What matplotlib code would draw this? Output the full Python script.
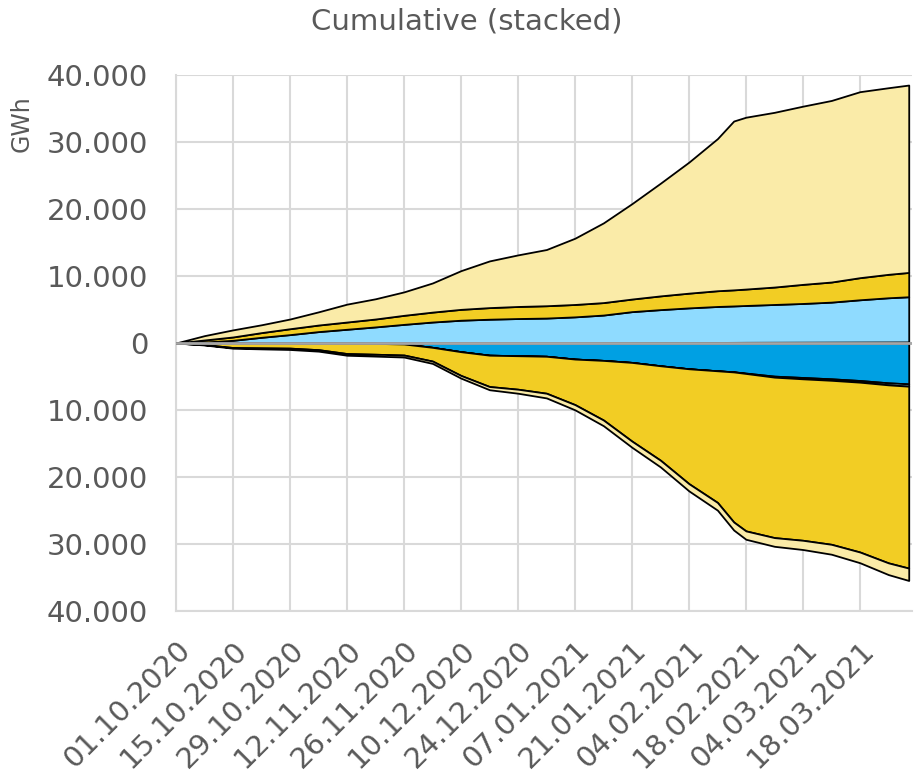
import numpy as np
import pandas as pd
import matplotlib
matplotlib.use('Agg')
import matplotlib.pyplot as plt
from matplotlib.ticker import FuncFormatter
from matplotlib.transforms import ScaledTranslation

# days since 01.10.2020
days = [0, 7, 14, 21, 28, 35, 42, 49, 56, 63, 70, 77, 84, 91, 98, 105,
        112, 119, 126, 133, 137, 140, 147, 154, 161, 168, 175, 180]

# positive side (cumulative GWh per layer)
pos_darkblue = [0, 0, 0, 0, 0, 0, 0, 0, 0, 0, 0, 0, 0, 0, 0, 20,
                30, 50, 60, 80, 90, 100, 110, 120, 130, 140, 150, 160]
pos_lightblue = [0, 150, 400, 850, 1250, 1700, 2050, 2400, 2780, 3130, 3400, 3550, 3650, 3720, 3900, 4150,
                 4650, 4930, 5180, 5370, 5440, 5500, 5640, 5780, 5970, 6310, 6600, 6740]
pos_yellow = [0, 300, 500, 700, 880, 980, 1080, 1180, 1350, 1480, 1620, 1730, 1800, 1840, 1850, 1860,
              1880, 2050, 2200, 2350, 2400, 2450, 2600, 2850, 3000, 3300, 3500, 3630]
pos_paleyellow = [0, 650, 1060, 1170, 1450, 1970, 2670, 3020, 3500, 4350, 5780, 6970, 7700, 8390, 9890, 11900,
                  14240, 16820, 19560, 22700, 25200, 25650, 26080, 26600, 27100, 27760, 27850, 27970]

# negative side
neg_darkblue = [0, 0, 10, 20, 30, 40, 50, 60, 150, 650, 1300, 1820, 1900, 1980, 2400, 2600,
                2900, 3400, 3850, 4150, 4300, 4500, 4950, 5150, 5350, 5600, 5950, 6100]
neg_lightblue = [0, 0, 0, 0, 0, 0, 0, 0, 0, 0, 0, 0, 0, 0, 0, 0,
                 0, 0, 0, 0, 20, 50, 150, 200, 220, 250, 300, 350]
neg_yellow = [0, 250, 670, 710, 740, 960, 1530, 1620, 1650, 2050, 3550, 4680, 5000, 5520, 6800, 8900,
              11750, 14100, 17150, 19650, 22400, 23500, 23950, 24100, 24480, 25350, 26570, 27150]
neg_paleyellow = [0, 50, 100, 150, 200, 220, 250, 280, 300, 350, 400, 480, 600, 700, 780, 850,
                  920, 1000, 1080, 1150, 1200, 1250, 1300, 1380, 1480, 1600, 1750, 1850]

colors = ['#00A0E3', '#8FDBFF', '#F2CD24', '#FAEBA8']

plt.rcParams['font.family'] = ['DejaVu Sans']
txt = '#595959'

start = pd.Timestamp('2020-10-01')
x = [start + pd.Timedelta(days=d) for d in days]

fig = plt.figure(figsize=(9.14, 7.78), dpi=100)
ax = fig.add_axes([0.1926, 0.2147, 0.8052, 0.6889])

ax.stackplot(x, pos_darkblue, pos_lightblue, pos_yellow, pos_paleyellow,
             colors=colors, edgecolor='black', linewidth=1.3, zorder=3)
ax.stackplot(x, -np.array(neg_darkblue), -np.array(neg_lightblue),
             -np.array(neg_yellow), -np.array(neg_paleyellow),
             colors=colors, edgecolor='black', linewidth=1.3, zorder=3)
ax.axhline(0, color='#A6A6A6', lw=2, zorder=4)

ax.set_ylim(-40000, 40000)
ax.set_yticks(np.arange(-40000, 40001, 10000))
ax.yaxis.set_major_formatter(FuncFormatter(lambda v, p: f'{abs(int(v)):,}'.replace(',', '.')))
ax.set_xlim(start, start + pd.Timedelta(days=180.8))
ticks = pd.date_range('2020-10-01', '2021-03-31', freq='14D')
ax.set_xticks(ticks)
ax.set_xticklabels([t.strftime('%d.%m.%Y') for t in ticks], rotation=45,
                   ha='right', rotation_mode='anchor')
shift = ScaledTranslation(-0.07, -0.02, fig.dpi_scale_trans)
for lab in ax.get_xticklabels():
    lab.set_transform(lab.get_transform() + shift)

ax.grid(True, color='#D9D9D9', lw=1.5, zorder=0)
ax.set_axisbelow(True)
for s in ['top', 'right']:
    ax.spines[s].set_visible(False)
for s in ['left', 'bottom']:
    ax.spines[s].set_color('#D9D9D9')
    ax.spines[s].set_linewidth(1.5)
ax.tick_params(length=0, labelcolor=txt)
ax.tick_params(axis='y', labelsize=21, pad=20)
ax.tick_params(axis='x', labelsize=21, pad=18)

fig.text(0.511, 0.972, 'Cumulative (stacked)', fontsize=21, color=txt, ha='center', va='center')
fig.text(0.010, 0.878, 'GWh', rotation=90, fontsize=17, color=txt, va='top', ha='left')

fig.savefig('out.png', dpi=100)
